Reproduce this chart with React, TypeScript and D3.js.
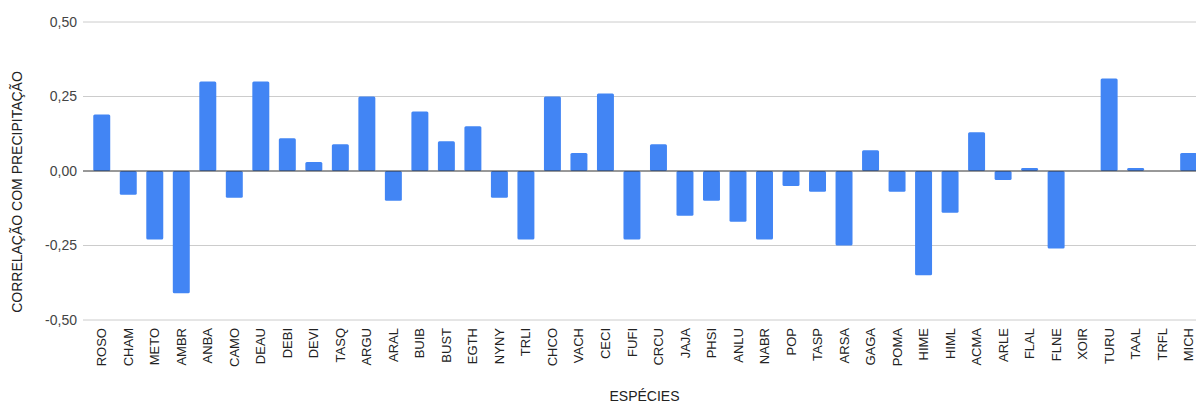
import React from "react";
import * as d3 from "d3";

// Species codes along the x axis
const species = [
  "ROSO", "CHAM", "METO", "AMBR", "ANBA", "CAMO", "DEAU", "DEBI", "DEVI", "TASQ",
  "ARGU", "ARAL", "BUIB", "BUST", "EGTH", "NYNY", "TRLI", "CHCO", "VACH", "CECI",
  "FUFI", "CRCU", "JAJA", "PHSI", "ANLU", "NABR", "POP", "TASP", "ARSA", "GAGA",
  "POMA", "HIME", "HIML", "ACMA", "ARLE", "FLAL", "FLNE", "XOIR", "TURU", "TAAL",
  "TRFL", "MICH",
];

// Correlation of each species with precipitation
const correlation = [
  0.19, -0.08, -0.23, -0.41, 0.30, -0.09, 0.30, 0.11, 0.03, 0.09,
  0.25, -0.10, 0.20, 0.10, 0.15, -0.09, -0.23, 0.25, 0.06, 0.26,
  -0.23, 0.09, -0.15, -0.10, -0.17, -0.23, -0.05, -0.07, -0.25, 0.07,
  -0.07, -0.35, -0.14, 0.13, -0.03, 0.01, -0.26, 0.0, 0.31, 0.01,
  0.0, 0.06,
];

const yTicks = [-0.5, -0.25, 0, 0.25, 0.5];

const yTitle = "CORRELAÇÃO COM PRECIPITAÇÃO";
const xTitle = "ESPÉCIES";

const W = 1196;
const H = 403;
const FONT = "'Liberation Sans', Arial, sans-serif";

export default function App() {
  const gridLeft = 83;
  const plotLeft = 88.5;
  const step = 26.51;

  const x = d3
    .scaleBand<string>()
    .domain(species)
    .range([plotLeft, plotLeft + step * species.length])
    .paddingInner(0.36)
    .paddingOuter(0.18);

  const y = d3.scaleLinear().domain([-0.5, 0.5]).range([320, 22]);
  const fmt = (v: number) => d3.format(".2f")(v).replace(".", ",").replace("−", "-");

  return (
    <svg
      width={W}
      height={H}
      style={{ position: "absolute", left: 0, top: 0, background: "#fff" }}
      fontFamily={FONT}
    >
      {/* horizontal gridlines and tick labels */}
      {yTicks.map((t) => (
        <g key={t}>
          {t !== 0 && (
            <line x1={gridLeft} x2={W} y1={y(t)} y2={y(t)} stroke="#cccccc" strokeWidth={1} />
          )}
          <text
            x={77}
            y={y(t)}
            dy="0.35em"
            textAnchor="end"
            fontSize={14}
            fill="#444"
          >
            {fmt(t)}
          </text>
        </g>
      ))}

      {/* bars */}
      {species.map((s, i) => {
        const v = correlation[i];
        if (v === 0) return null;
        const y0 = y(0);
        const y1 = y(v);
        return (
          <rect
            key={s}
            x={x(s)}
            width={x.bandwidth()}
            y={Math.min(y0, y1)}
            height={Math.abs(y1 - y0)}
            rx={1.5}
            fill="#4285f4"
          />
        );
      })}

      {/* zero baseline */}
      <line x1={gridLeft} x2={W} y1={y(0)} y2={y(0)} stroke="#333" strokeWidth={1} />

      {/* category labels */}
      {species.map((s) => {
        const cx = (x(s) as number) + x.bandwidth() / 2;
        return (
          <text
            key={s}
            transform={`translate(${cx},328) rotate(-90)`}
            textAnchor="end"
            dy="0.35em"
            fontSize={13}
            fill="#222"
          >
            {s}
          </text>
        );
      })}

      {/* axis titles */}
      <text
        transform={`translate(17.5,192) rotate(-90)`}
        textAnchor="middle"
        dy="0.35em"
        fontSize={14}
        fill="#222"
      >
        {yTitle}
      </text>
      <text x={644.5} y={400.5} textAnchor="middle" fontSize={14} fill="#222">
        {xTitle}
      </text>
    </svg>
  );
}
